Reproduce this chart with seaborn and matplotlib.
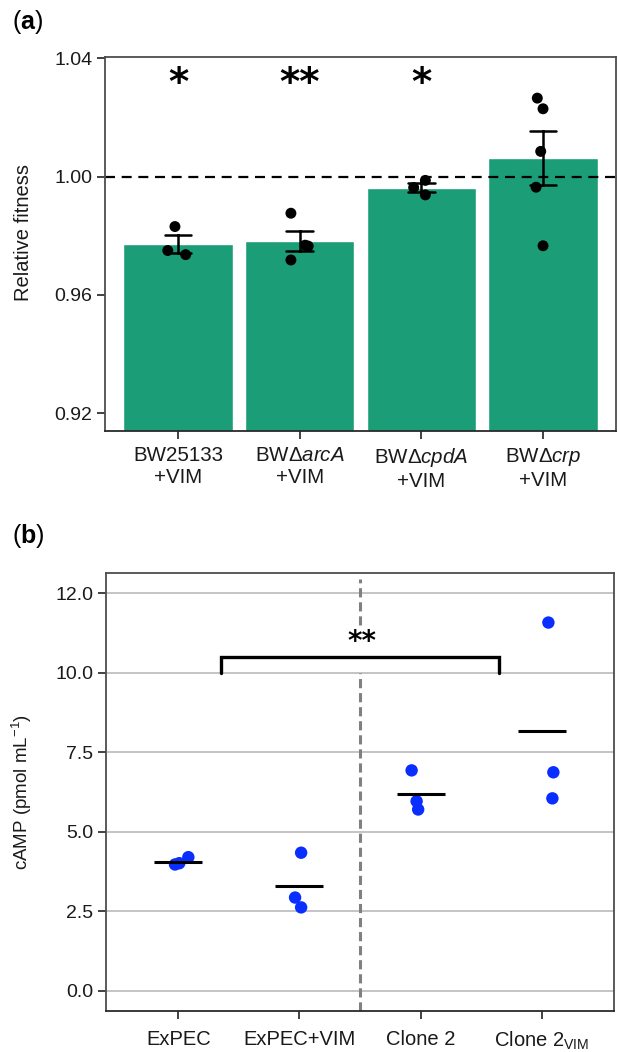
import numpy as np
import pandas as pd
import matplotlib
matplotlib.use("Agg")
import matplotlib.pyplot as plt
import seaborn as sns

# ---------------- data: panel (a) relative fitness ----------------
fit_groups = ["BW25133", "arcA", "cpdA", "crp"]
fit_labels = ["BW25133\n+VIM", "BWΔ$\\it{arcA}$\n+VIM", "BWΔ$\\it{cpdA}$\n+VIM", "BWΔ$\\it{crp}$\n+VIM"]
fit_bw25133 = [0.9831, 0.9750, 0.9736]
fit_arcA = [0.9876, 0.9768, 0.9765, 0.9718]
fit_cpdA = [0.9963, 0.9987, 0.9938]
fit_crp = [1.0265, 1.0229, 1.0085, 0.9964, 0.9766]
fit_jitter = [[-0.025, -0.084, 0.063], [-0.072, 0.045, 0.07, -0.072],
              [-0.063, 0.033, 0.033], [-0.047, 0.0, -0.019, -0.057, 0.0]]
fit_signif = ["*", "**", "*", ""]

# ---------------- data: panel (b) cAMP ----------------
camp_groups = ["ExPEC", "ExPEC+VIM", "Clone 2", "Clone 2VIM"]
camp_labels = ["ExPEC", "ExPEC+VIM", "Clone 2", "Clone 2$_{\\mathregular{VIM}}$"]
camp_expec = [3.97, 4.01, 4.20]
camp_expec_vim = [4.34, 2.93, 2.62]
camp_clone2 = [6.93, 5.96, 5.70]
camp_clone2_vim = [11.58, 6.87, 6.05]
camp_jitter = [[-0.027, 0.008, 0.083], [0.014, -0.036, 0.014],
               [-0.074, -0.033, -0.02], [0.055, 0.096, 0.088]]
camp_yticks = [0.0, 2.5, 5.0, 7.5, 10.0, 12.5]
camp_yticklabels = ["0.0", "2.5", "5.0", "7.5", "10.0", "12.0"]
bracket_x = [0.35, 0.35, 2.65, 2.65]
bracket_y = [10.0, 10.5, 10.5, 10.0]

# ---------------- build tables ----------------
def long_table(groups, lists, jitters):
    rows = []
    for i, (g, vals, jit) in enumerate(zip(groups, lists, jitters)):
        for v, j in zip(vals, jit):
            rows.append({"group": g, "value": v, "xpos": i + j})
    return pd.DataFrame(rows)

dfa = long_table(fit_groups, [fit_bw25133, fit_arcA, fit_cpdA, fit_crp], fit_jitter)
dfb = long_table(camp_groups, [camp_expec, camp_expec_vim, camp_clone2, camp_clone2_vim], camp_jitter)

# ---------------- style ----------------
sns.set_theme(style="white")
plt.rcParams["font.family"] = ["Liberation Sans", "DejaVu Sans"]
plt.rcParams["mathtext.fontset"] = "custom"
plt.rcParams["mathtext.rm"] = "Liberation Sans"
plt.rcParams["mathtext.it"] = "Liberation Sans:italic"
plt.rcParams["mathtext.bf"] = "Liberation Sans:bold"

TXT = "#1a1a1a"
SPINE = "#4d4d4d"

fig = plt.figure(figsize=(6.19, 10.52), dpi=100)
axa = fig.add_axes([0.1696, 0.5903, 0.8256, 0.3558])
axb = fig.add_axes([0.1706, 0.0394, 0.8220, 0.4155])

# ---------------- panel (a) ----------------
sns.barplot(data=dfa, x="group", y="value", order=fit_groups, color="#1B9E77",
            saturation=1, width=0.9, errorbar="se", capsize=0.22,
            err_kws={"color": "black", "linewidth": 1.8, "zorder": 4}, ax=axa)
sns.scatterplot(data=dfa, x="xpos", y="value", color="black", s=62,
                edgecolor="none", zorder=3, ax=axa, legend=False)
axa.axhline(1.0, color="black", linewidth=1.6, linestyle=(0, (4.5, 3)), zorder=2)
for i, s in enumerate(fit_signif):
    if s:
        axa.text(i, 1.0312, s, ha="center", va="center", fontsize=28,
                 fontweight="bold", color="black", family="DejaVu Sans")
axa.set_xlim(-0.6, 3.6)
axa.set_ylim(0.914, 1.0405)
axa.set_yticks([0.92, 0.96, 1.00, 1.04])
axa.set_yticklabels(["0.92", "0.96", "1.00", "1.04"])
axa.set_xticks(range(4))
axa.set_xticklabels(fit_labels)
axa.set_xlabel("")
axa.set_ylabel("Relative fitness", fontsize=14.5, color=TXT)
axa.yaxis.set_label_coords(-0.14, 0.53)

# ---------------- panel (b) ----------------
axb.set_axisbelow(True)
axb.grid(True, color="#c4c4c4", linewidth=1.4)
sns.pointplot(data=dfb, x="group", y="value", order=camp_groups, estimator="mean",
              errorbar=None, linestyle="none", marker="_", markersize=34,
              markeredgewidth=2.2, color="black", ax=axb, zorder=4)
sns.scatterplot(data=dfb, x="xpos", y="value", color="#0a2eff", s=80,
                edgecolor="none", zorder=3, ax=axb, legend=False)
axb.plot([1.5, 1.5], [-0.625, 10.0], color="#808080", linewidth=2.2,
         linestyle=(0, (3, 1.6)), zorder=2)
axb.plot([1.5, 1.5], [11.5, 12.95], color="#808080", linewidth=2.2,
         linestyle=(0, (3, 1.6)), zorder=2)
axb.plot(bracket_x, bracket_y, color="black", linewidth=2.4, zorder=5,
         solid_joinstyle="miter")
axb.text(1.52, 10.98, "**", ha="center", va="center", fontsize=20,
         fontweight="bold", color="black", family="DejaVu Sans")
axb.set_xlim(-0.6, 3.6)
axb.set_ylim(-0.625, 13.125)
axb.set_xticks(range(4))
axb.set_xticklabels(camp_labels)
axb.set_yticks(camp_yticks)
axb.set_yticklabels(camp_yticklabels)
axb.set_xlabel("")
axb.set_ylabel("cAMP (pmol mL$^{-1}$)", fontsize=13.5, color=TXT)
axb.yaxis.set_label_coords(-0.14, 0.5)

for ax in (axa, axb):
    for side, sp in ax.spines.items():
        sp.set_visible(True)
        sp.set_color(SPINE)
        sp.set_linewidth(1.3)
    ax.spines["bottom"].set_color("#2a2a2a")
    ax.tick_params(axis="both", which="major", direction="out", length=6,
                   width=1.3, color="#333333", labelsize=14, labelcolor=TXT,
                   bottom=True, left=True, pad=3)
axa.tick_params(axis="x", labelsize=14.8, pad=5)
axb.tick_params(axis="x", labelsize=14.5, pad=8)

fig.text(0.02, 0.979, "($\\mathbf{a}$)", fontsize=18, color="black", va="center")
fig.text(0.02, 0.4905, "($\\mathbf{b}$)", fontsize=18, color="black", va="center")

fig.savefig("out.png", dpi=100)
